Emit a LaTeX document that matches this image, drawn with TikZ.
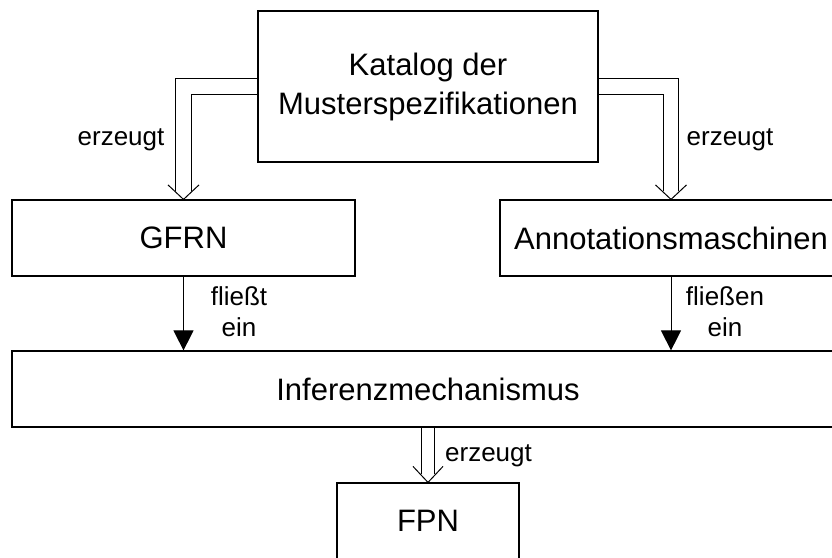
\documentclass[tikz,border=0pt]{standalone}
\usepackage{fontspec}
\setmainfont{Liberation Sans}
\usetikzlibrary{arrows.meta,backgrounds}
\begin{document}
\begin{tikzpicture}[x=1pt,y=-1pt,
  box/.style={draw,line width=1.2pt,inner sep=0pt,align=center,font=\fontsize{31}{39}\selectfont},
  lbl/.style={inner sep=0pt,align=center,font=\fontsize{26}{31.7}\selectfont},
  dblarrow/.style={double,double distance=14.7pt,line width=1pt,line join=miter},
  dblarrowb/.style={double,double distance=12.3pt,line width=1pt,line join=miter},
  vtip/.style={line width=1pt},
  flow/.style={line width=1pt,-{Triangle[length=20pt,width=20pt]}}]
\useasboundingbox (0,0) rectangle (832,557);
\clip (0,0) rectangle (832,557);
% boxes
\node[box,minimum width=340pt,minimum height=151pt] (kat) at (428,86.5) {Katalog der\\Musterspezifikationen};
\node[box,minimum width=343pt,minimum height=76pt] (gfrn) at (183.5,238) {GFRN};
\node[box,minimum width=342pt,minimum height=76pt] (ann) at (671,238) {Annotationsmaschinen};
\node[box,minimum width=832pt,minimum height=76pt] (inf) at (428,389) {Inferenzmechanismus};
\node[box,minimum width=182pt,minimum height=76pt] (fpn) at (428,521) {FPN};
% double (hollow) connectors
\begin{pgfonlayer}{background}
\draw[dblarrow] (kat.west) -| ([yshift=8pt]gfrn.north);
\draw[dblarrow] (kat.east) -| ([yshift=8pt]ann.north);
\draw[dblarrowb] (inf.south) -- ([yshift=8.5pt]fpn.north);
\end{pgfonlayer}
\draw[vtip] (gfrn.north) +(-15.5,-14.5) -- (gfrn.north) -- +(15.5,-14.5);
\draw[vtip] (ann.north) +(-15.5,-14.5) -- (ann.north) -- +(15.5,-14.5);
\draw[vtip] (fpn.north) +(-15,-16) -- (fpn.north) -- +(15,-16);
% flow arrows
\draw[flow] (gfrn.south) -- (gfrn.south |- inf.north);
\draw[flow] (ann.south) -- (ann.south |- inf.north);
% labels
\node[lbl,anchor=base] (l1) at (121,145) {erzeugt};
\node[lbl,anchor=base] (l2) at (730,145) {erzeugt};
\node[lbl,anchor=base] (l3) at (488.5,461.7) {erzeugt};
\node[lbl,anchor=base] (l4) at (239,336.7) {fließt\\ein};
\node[lbl,anchor=base] (l5) at (725,336.7) {fließen\\ein};
\end{tikzpicture}
\end{document}
